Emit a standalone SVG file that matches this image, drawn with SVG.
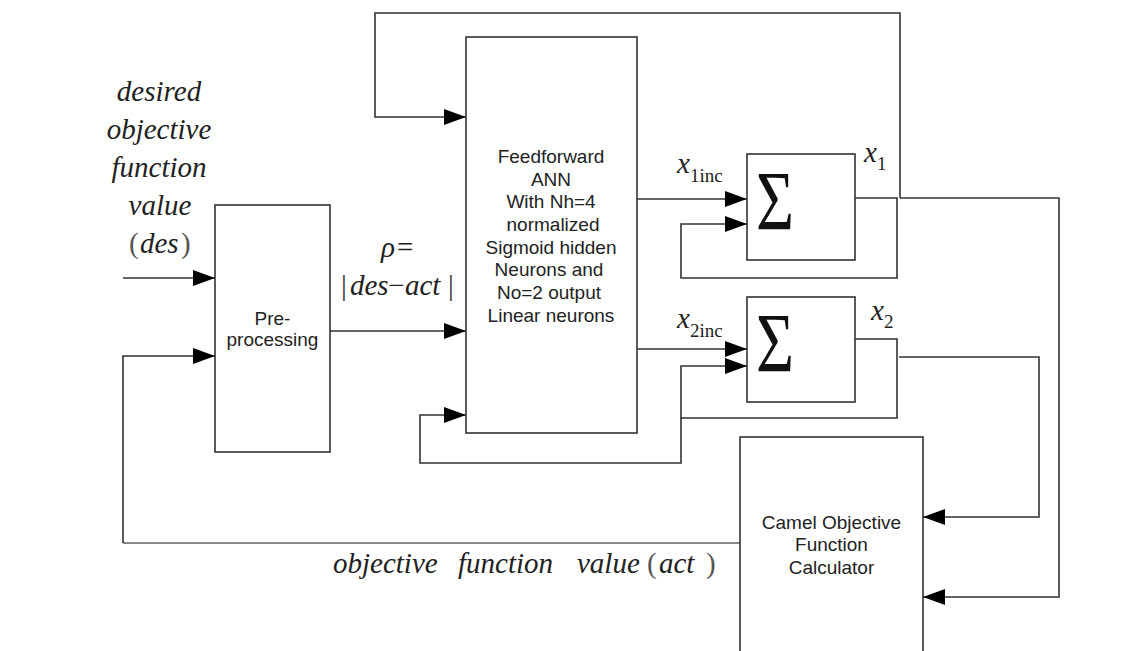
<svg xmlns="http://www.w3.org/2000/svg" width="1139" height="651" viewBox="0 0 1139 651">
<defs>
<marker id="arr" markerUnits="userSpaceOnUse" markerWidth="24" markerHeight="18" refX="22" refY="8" orient="auto">
<path d="M0,0 L22,8 L0,16 Z" fill="#000"/>
</marker>
<style>
.box{fill:#fff;stroke:#333;stroke-width:1.6}
.ln{fill:none;stroke:#333;stroke-width:1.6}
.lg{fill:none;stroke:#888;stroke-width:1.8}
.sans{font-family:"Liberation Sans",Arial,sans-serif;font-size:19px;fill:#222;text-anchor:middle}
.it{font-family:"Liberation Serif","Times New Roman",serif;font-style:italic;font-size:29px;fill:#222}
.up{font-family:"Liberation Serif","Times New Roman",serif;font-size:29px;fill:#555}
.sub{font-family:"Liberation Serif","Times New Roman",serif;font-size:19px;fill:#222}
.sig{font-family:"Liberation Serif","Times New Roman",serif;font-size:84px;fill:#111}
</style>
</defs>
<rect width="1139" height="651" fill="#fff"/>

<g id="connectors">
<path class="ln" d="M123,278 H215" marker-end="url(#arr)"/>
<path class="ln" d="M330,331 H466" marker-end="url(#arr)"/>
<path class="lg" d="M740,543 H123"/>
<path class="ln" d="M123,543 V356 H215" marker-end="url(#arr)"/>
<path class="ln" d="M900,198 V13 H375 V117 H466" marker-end="url(#arr)"/>
<path class="ln" d="M900,198 H1059 V597 H923" marker-end="url(#arr)"/>
<path class="ln" d="M637,199 H747" marker-end="url(#arr)"/>
<path class="ln" d="M637,349 H747" marker-end="url(#arr)"/>
<path class="ln" d="M855,198 H897 V278 H681 V224 H747" marker-end="url(#arr)"/>
<path class="ln" d="M855,339 H897 V418 H681 V366 H747" marker-end="url(#arr)"/>
<path class="ln" d="M681,418 V463 H420 V415 H466" marker-end="url(#arr)"/>
<path class="ln" d="M899,357 H1039 V517 H923" marker-end="url(#arr)"/>
</g>

<g id="desired-label">
<text class="it" x="159" y="101" text-anchor="middle">desired</text>
<text class="it" x="159" y="139" text-anchor="middle">objective</text>
<text class="it" x="159" y="177" text-anchor="middle">function</text>
<text class="it" x="160" y="215" text-anchor="middle">value</text>
<text class="up" x="129" y="253">(</text>
<text class="it" x="140" y="253">des</text>
<text class="up" x="181" y="253">)</text>
</g>

<g id="preprocessing">
<rect class="box" x="215" y="205" width="115" height="247"/>
<text class="sans" x="272.5" y="325">Pre-</text>
<text class="sans" x="272.5" y="346">processing</text>
</g>

<g id="rho-label">
<text class="it" x="381" y="257">ρ</text>
<text class="up" x="397" y="257" style="fill:#222">=</text>
<text class="up" x="341" y="295" style="fill:#333">|</text>
<text class="it" x="350" y="295">des</text>
<text class="up" x="388" y="295" style="fill:#222">−</text>
<text class="it" x="405" y="295">act</text>
<text class="up" x="448" y="295" style="fill:#333">|</text>
</g>

<g id="ann">
<rect class="box" x="466" y="37" width="171" height="396"/>
<text class="sans" x="551" y="163">Feedforward</text>
<text class="sans" x="551" y="186">ANN</text>
<text class="sans" x="551" y="208">With Nh=4</text>
<text class="sans" x="553" y="231">normalized</text>
<text class="sans" x="551" y="254">Sigmoid hidden</text>
<text class="sans" x="549" y="276">Neurons and</text>
<text class="sans" x="549" y="299">No=2 output</text>
<text class="sans" x="551" y="322">Linear neurons</text>
</g>

<g id="x1inc-label">
<text class="it" x="677" y="173">x</text>
<text class="sub" x="690" y="182">1inc</text>
</g>
<g id="x2inc-label">
<text class="it" x="677" y="328">x</text>
<text class="sub" x="690" y="337">2inc</text>
</g>

<g id="sum1">
<rect class="box" x="747" y="154" width="108" height="106"/>
<text class="sig" x="756" y="230" textLength="38" lengthAdjust="spacingAndGlyphs">Σ</text>
</g>
<g id="sum2">
<rect class="box" x="747" y="297" width="108" height="105"/>
<text class="sig" x="756" y="372" textLength="38" lengthAdjust="spacingAndGlyphs">Σ</text>
</g>

<g id="x1-label">
<text class="it" x="864" y="162">x</text>
<text class="sub" x="877" y="170">1</text>
</g>
<g id="x2-label">
<text class="it" x="871" y="320">x</text>
<text class="sub" x="884" y="328">2</text>
</g>

<g id="camel">
<rect class="box" x="740" y="437" width="183" height="230"/>
<text class="sans" x="831.5" y="529">Camel Objective</text>
<text class="sans" x="831.5" y="551">Function</text>
<text class="sans" x="831.5" y="574">Calculator</text>
</g>

<g id="act-label">
<text class="it" x="333" y="573">objective</text>
<text class="it" x="458" y="573">function</text>
<text class="it" x="577" y="573">value</text>
<text class="up" x="647" y="573">(</text>
<text class="it" x="659" y="573">act</text>
<text class="up" x="706" y="573">)</text>
</g>
</svg>
